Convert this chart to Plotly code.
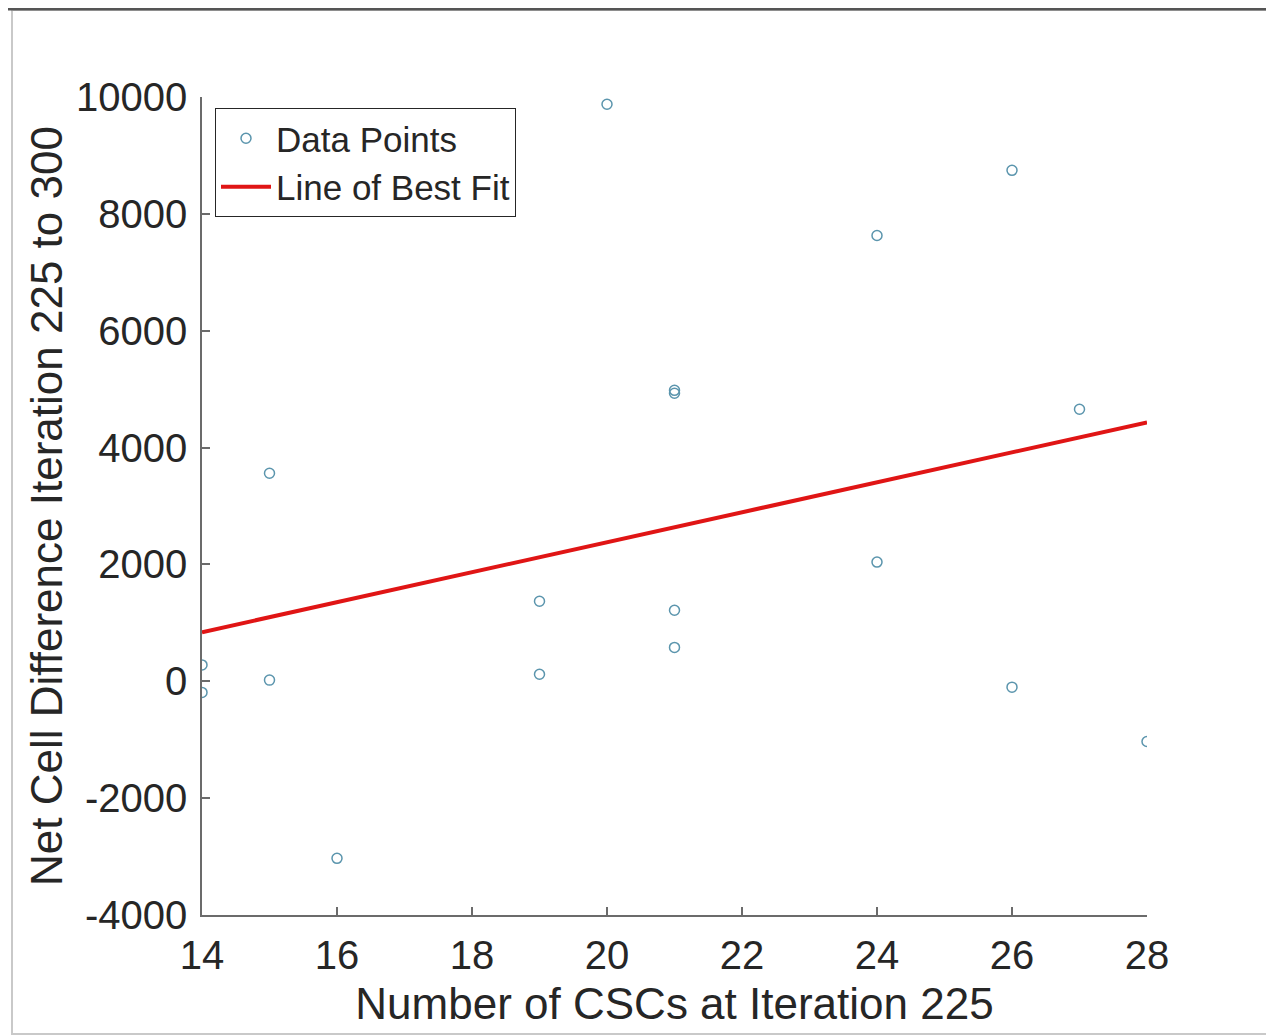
import numpy as np
import plotly.graph_objects as go

# Data
csc_count = [14, 14, 15, 15, 16, 19, 19, 20, 21, 21, 21, 21, 24, 24, 26, 26, 27, 28]
net_diff = [280, -190, 3560, 20, -3030, 1370, 120, 9875, 4980, 4930, 1215, 580,
            7630, 2040, 8745, -100, 4655, -1030]

x_ticks = [14, 16, 18, 20, 22, 24, 26, 28]
y_ticks = [-4000, -2000, 0, 2000, 4000, 6000, 8000, 10000]

# Least squares fit
slope, intercept = np.polyfit(csc_count, net_diff, 1)
fit_x = np.array([min(csc_count), max(csc_count)])
fit_y = slope * fit_x + intercept

OFF = 8  # page body margin
W, H = 1274 - OFF, 1036 - OFF
L, T = 202 - OFF, 97 - OFF
pw, ph = 945, 818
R = W - L - pw
B = H - T - ph

def px(x):
    return (x - OFF - L) / pw

def py(y):
    return (T + ph - (y - OFF)) / ph

FONT = "Liberation Sans, Arial, sans-serif"
TXT = "#262626"
AX = "#6b6b6b"

fig = go.Figure()
fig.add_trace(go.Scatter(
    x=csc_count, y=net_diff, mode="markers", name="Data Points",
    marker=dict(symbol="circle-open", size=10, color="#5b95ad",
                line=dict(width=1.5, color="#5b95ad")),
))
fig.add_trace(go.Scatter(
    x=fit_x, y=fit_y, mode="lines", name="Line of Best Fit",
    line=dict(color="#e01515", width=4),
))

fig.update_layout(
    width=W, height=H,
    margin=dict(l=L, r=R, t=T, b=B),
    paper_bgcolor="white", plot_bgcolor="white",
    font=dict(family=FONT, color=TXT),
    showlegend=True,
    legend=dict(
        x=px(215), y=py(108), xanchor="left", yanchor="top",
        font=dict(size=35, color=TXT, family=FONT),
        bgcolor="white", bordercolor="#262626", borderwidth=1,
        itemwidth=50, tracegroupgap=0,
    ),
    xaxis=dict(
        range=[14, 28], tickvals=x_ticks, ticktext=[str(v) for v in x_ticks],
        showgrid=False, zeroline=False, showline=True, linecolor=AX, linewidth=1.5,
        ticks="inside", ticklen=8, tickcolor=AX, tickwidth=1.5,
        tickfont=dict(size=40, color=TXT), ticklabelstandoff=4,
        title=dict(text="Number of CSCs at Iteration 225",
                   font=dict(size=44, color=TXT), standoff=12),
        automargin=False,
    ),
    yaxis=dict(
        range=[-4000, 10000], tickvals=y_ticks, ticktext=[str(v) for v in y_ticks],
        showgrid=False, zeroline=False, showline=True, linecolor=AX, linewidth=1.5,
        ticks="inside", ticklen=8, tickcolor=AX, tickwidth=1.5,
        tickfont=dict(size=40, color=TXT), ticklabelstandoff=5,
        title=dict(text="Net Cell Difference Iteration 225 to 300",
                   font=dict(size=44, color=TXT), standoff=0),
        automargin=False,
    ),
    shapes=[
        dict(type="rect", xref="paper", yref="paper",
             x0=px(12), x1=px(1271), y0=py(1034), y1=py(10),
             line=dict(color="#c9c9c9", width=2), fillcolor="rgba(0,0,0,0)", layer="below"),
        dict(type="line", xref="paper", yref="paper",
             x0=px(8), x1=px(1274), y0=py(9), y1=py(9),
             line=dict(color="#555555", width=3)),
    ],
)

fig.write_html("out.html")
